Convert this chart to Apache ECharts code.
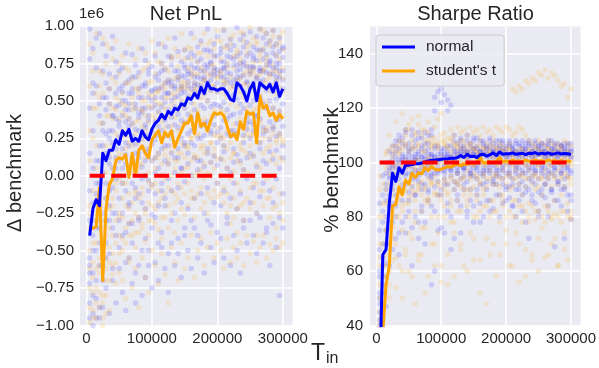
<!DOCTYPE html>
<html lang="en">
<head>
    <meta charset="UTF-8">
    <title>Net PnL / Sharpe Ratio</title>
    <script src="https://cdn.jsdelivr.net/npm/echarts@6/dist/echarts.min.js"></script>
    <style>
        html, body { margin: 0; padding: 0; background: #fff; }
        #chart { width: 599px; height: 368px; }
    </style>
</head>
<body>
    <div id="chart"></div>
    <script>
        // training window lengths (x)
        const tIn = [
            5000, 10000, 15000, 20000, 25000, 30000, 35000, 40000, 45000, 50000,
            55000, 60000, 65000, 70000, 75000, 80000, 85000, 90000, 95000, 100000,
            105000, 110000, 115000, 120000, 125000, 130000, 135000, 140000, 145000, 150000,
            155000, 160000, 165000, 170000, 175000, 180000, 185000, 190000, 195000, 200000,
            205000, 210000, 215000, 220000, 225000, 230000, 235000, 240000, 245000, 250000,
            255000, 260000, 265000, 270000, 275000, 280000, 285000, 290000, 295000, 300000
        ]
        const tInTicks = [0, 100000, 200000, 300000]
        const sharpeTicks = [40, 60, 80, 100, 120, 140]
        const benchX = [5000, 300000]

        // Net PnL, delta to benchmark (units of 1e6)
        const pnlNormal = [
            -0.40, -0.22, -0.16, -0.20, 0.15, 0.10, 0.17, 0.17, 0.24, 0.21,
            0.30, 0.27, 0.31, 0.23, 0.25, 0.23, 0.30, 0.26, 0.24, 0.31,
            0.35, 0.37, 0.41, 0.38, 0.43, 0.41, 0.45, 0.44, 0.48, 0.47,
            0.52, 0.51, 0.55, 0.52, 0.59, 0.55, 0.62, 0.58, 0.58, 0.57,
            0.58, 0.58, 0.55, 0.51, 0.50, 0.62, 0.60, 0.56, 0.50, 0.58,
            0.62, 0.50, 0.62, 0.60, 0.58, 0.61, 0.56, 0.62, 0.53, 0.58
        ]
        const pnlStudent = [
            -0.36, -0.35, -0.34, -0.08, -0.70, -0.22, -0.06, -0.02, 0.10, 0.12,
            0.11, 0.14, -0.01, 0.15, 0.00, 0.17, 0.20, 0.15, 0.12, 0.24,
            0.27, 0.30, 0.22, 0.29, 0.26, 0.30, 0.19, 0.25, 0.30, 0.35,
            0.35, 0.40, 0.28, 0.42, 0.33, 0.35, 0.30, 0.37, 0.42, 0.41,
            0.42, 0.40, 0.33, 0.26, 0.28, 0.24, 0.36, 0.31, 0.43, 0.41,
            0.42, 0.22, 0.53, 0.45, 0.47, 0.40, 0.42, 0.37, 0.41, 0.38
        ]
        const pnlBench = [0, 0]

        // individual runs (scatter), one row per run
        const pnlNormalRuns = [
            [0.78, 0.55, 0.92, 0.40, 0.70, 0.62, 0.48, 0.85, 0.66, 0.58, 0.72, 0.50, 0.64, 0.81, 0.45, 0.69, 0.60, 0.77, 0.52, 0.73,
             0.66, 0.88, 0.59, 0.71, 0.80, 0.63, 0.92, 0.70, 0.76, 0.84, 0.79, 0.95, 0.72, 0.86, 0.90, 0.74, 0.98, 0.83, 0.88, 0.93,
             0.85, 0.97, 0.80, 0.91, 0.87, 0.99, 0.82, 0.94, 0.89, 0.96, 0.86, 0.93, 0.98, 0.84, 0.95, 0.90, 0.97, 0.88, 0.92, 0.85],
            [-0.10, 0.05, -0.30, 0.20, 0.35, 0.28, 0.30, 0.22, 0.38, 0.33, 0.40, 0.36, 0.44, 0.35, 0.31, 0.39, 0.42, 0.34, 0.37, 0.45,
             0.47, 0.43, 0.52, 0.49, 0.55, 0.50, 0.58, 0.53, 0.60, 0.56, 0.63, 0.58, 0.66, 0.61, 0.70, 0.64, 0.72, 0.68, 0.67, 0.71,
             0.70, 0.66, 0.69, 0.62, 0.64, 0.74, 0.71, 0.67, 0.63, 0.70, 0.73, 0.65, 0.72, 0.70, 0.69, 0.74, 0.68, 0.75, 0.66, 0.70],
            [-0.55, -0.40, 0.10, -0.35, 0.02, -0.05, 0.08, 0.05, 0.12, 0.10, 0.18, 0.14, 0.20, 0.10, 0.15, 0.12, 0.19, 0.16, 0.13, 0.21,
             0.24, 0.27, 0.30, 0.26, 0.33, 0.29, 0.34, 0.32, 0.37, 0.35, 0.41, 0.39, 0.44, 0.40, 0.47, 0.45, 0.50, 0.46, 0.48, 0.47,
             0.46, 0.49, 0.44, 0.40, 0.41, 0.51, 0.48, 0.45, 0.39, 0.47, 0.50, 0.40, 0.52, 0.49, 0.46, 0.50, 0.45, 0.51, 0.43, 0.48],
            [-0.85, -0.65, -0.50, -0.60, -0.25, -0.15, -0.20, -0.08, -0.02, 0.00, 0.05, -0.10, 0.02, -0.05, 0.08, -0.12, 0.06, 0.00, -0.03, 0.10,
             0.12, 0.05, 0.18, 0.10, 0.20, 0.15, 0.22, 0.12, 0.25, 0.20, 0.28, 0.22, 0.31, 0.25, 0.33, 0.27, 0.36, 0.30, 0.34, 0.29,
             0.32, 0.37, 0.28, 0.26, 0.30, 0.35, 0.33, 0.27, 0.31, 0.36, 0.34, 0.29, 0.38, 0.32, 0.30, 0.36, 0.31, 0.37, 0.28, 0.33],
            [-0.95, -0.92, -0.70, -0.88, -0.60, -0.45, -0.52, -0.35, -0.40, -0.30, -0.25, -0.38, -0.20, -0.32, -0.15, -0.28, -0.18, -0.22, -0.10, -0.26,
             -0.12, -0.20, -0.05, -0.15, -0.02, -0.10, 0.02, -0.08, 0.05, -0.04, 0.08, 0.00, 0.12, 0.04, 0.10, 0.06, 0.15, 0.09, 0.13, 0.07,
             0.11, 0.16, 0.05, 0.02, 0.09, 0.14, 0.10, 0.04, 0.12, 0.15, 0.13, 0.06, 0.18, 0.10, 0.08, 0.16, 0.11, 0.17, 0.05, 0.12],
            [0.98, 0.85, 0.72, 0.95, 0.88, 0.80, 0.68, 0.93, 0.76, 0.70, 0.60, 0.82, 0.55, 0.66, 0.74, 0.58, 0.85, 0.62, 0.71, 0.57,
             0.80, 0.68, 0.75, 0.86, 0.64, 0.79, 0.70, 0.83, 0.67, 0.74, 0.70, 0.82, 0.60, 0.76, 0.65, 0.84, 0.62, 0.75, 0.80, 0.68,
             0.76, 0.72, 0.87, 0.79, 0.74, 0.66, 0.91, 0.76, 0.80, 0.73, 0.78, 0.84, 0.70, 0.92, 0.81, 0.77, 0.86, 0.72, 0.83, 0.79],
            [-0.65, -0.80, -0.95, -0.45, -0.70, -0.55, -0.30, -0.62, -0.25, -0.48, -0.40, -0.58, -0.32, -0.45, -0.65, -0.30, -0.50, -0.42, -0.60, -0.35,
             -0.28, -0.45, -0.38, -0.20, -0.52, -0.30, -0.25, -0.42, -0.18, -0.35, -0.22, -0.30, -0.15, -0.40, -0.12, -0.25, -0.08, -0.33, -0.18, -0.05,
             -0.20, -0.10, -0.28, -0.15, -0.05, -0.22, -0.12, -0.30, -0.02, -0.18, -0.08, -0.25, -0.14, -0.05, -0.35, -0.10, -0.18, -0.02, -0.28, -0.12],
            [-0.30, -0.18, -0.12, -0.05, 0.20, 0.15, 0.25, 0.30, 0.18, 0.26, 0.28, 0.22, 0.33, 0.26, 0.21, 0.30, 0.25, 0.32, 0.27, 0.29,
             0.36, 0.33, 0.40, 0.37, 0.44, 0.39, 0.46, 0.41, 0.49, 0.45, 0.53, 0.49, 0.56, 0.52, 0.60, 0.55, 0.62, 0.57, 0.59, 0.56,
             0.58, 0.61, 0.55, 0.52, 0.54, 0.63, 0.60, 0.56, 0.50, 0.59, 0.62, 0.52, 0.63, 0.60, 0.57, 0.61, 0.56, 0.63, 0.54, 0.58],
            [0.45, 0.30, 0.60, 0.10, 0.52, 0.44, 0.58, 0.40, 0.55, 0.47, 0.56, 0.62, 0.48, 0.58, 0.66, 0.52, 0.45, 0.60, 0.68, 0.50,
             0.58, 0.64, 0.70, 0.55, 0.62, 0.74, 0.60, 0.66, 0.55, 0.72, 0.68, 0.74, 0.80, 0.66, 0.78, 0.70, 0.84, 0.76, 0.72, 0.80,
             0.82, 0.76, 0.74, 0.84, 0.78, 0.80, 0.75, 0.86, 0.73, 0.82, 0.80, 0.77, 0.84, 0.78, 0.88, 0.76, 0.82, 0.80, 0.75, 0.86],
            [-0.72, -0.50, -0.35, -0.20, -0.45, -0.30, -0.10, -0.25, 0.05, -0.15, -0.05, 0.08, -0.18, 0.12, -0.08, 0.15, -0.02, 0.10, 0.18, -0.06,
             0.02, 0.15, -0.10, 0.20, 0.08, 0.25, 0.12, 0.18, 0.05, 0.22, 0.15, 0.30, 0.20, 0.10, 0.25, 0.35, 0.18, 0.28, 0.40, 0.22,
             0.25, 0.20, 0.38, 0.30, 0.18, 0.28, 0.42, 0.22, 0.35, 0.25, 0.30, 0.40, 0.22, 0.28, 0.45, 0.24, 0.33, 0.26, 0.38, 0.20],
            [0.15, 0.62, -0.05, 0.48, 0.30, 0.52, 0.12, 0.40, 0.46, 0.36, 0.50, 0.44, 0.38, 0.55, 0.48, 0.42, 0.52, 0.45, 0.40, 0.56,
             0.52, 0.58, 0.46, 0.62, 0.55, 0.60, 0.52, 0.64, 0.58, 0.66, 0.60, 0.68, 0.62, 0.72, 0.58, 0.66, 0.74, 0.64, 0.70, 0.62,
             0.66, 0.72, 0.64, 0.68, 0.60, 0.70, 0.66, 0.74, 0.62, 0.68, 0.72, 0.66, 0.70, 0.64, 0.74, 0.68, 0.72, 0.66, 0.70, 0.64],
            [-0.60, -1.00, -0.82, -0.95, -0.88, -0.75, -0.92, -0.70, -0.85, -0.62, -0.78, -0.90, -0.55, -0.72, -0.85, -0.60, -0.80, -0.68, -0.50, -0.75,
             -0.58, -0.70, -0.48, -0.62, -0.78, -0.45, -0.60, -0.52, -0.68, -0.40, -0.50, -0.62, -0.35, -0.55, -0.45, -0.65, -0.30, -0.48, -0.58, -0.38,
             -0.42, -0.55, -0.32, -0.60, -0.40, -0.50, -0.65, -0.35, -0.45, -0.30, -0.40, -0.52, -0.28, -0.45, -0.38, -0.60, -0.32, -0.48, -0.80, -0.35]
        ]
        const pnlStudentRuns = [
            [0.60, 0.82, 0.45, 0.70, 0.55, 0.88, 0.40, 0.65, 0.52, 0.75, 0.48, 0.62, 0.70, 0.44, 0.58, 0.66, 0.50, 0.72, 0.55, 0.63,
             0.68, 0.57, 0.75, 0.62, 0.70, 0.80, 0.65, 0.73, 0.60, 0.78, 0.72, 0.85, 0.68, 0.76, 0.82, 0.70, 0.88, 0.74, 0.80, 0.90,
             0.78, 0.86, 0.72, 0.92, 0.80, 0.84, 0.75, 0.95, 0.82, 0.88, 0.76, 0.90, 0.83, 0.97, 0.79, 0.87, 0.93, 0.81, 0.89, 0.84],
            [-0.20, -0.10, 0.05, -0.25, 0.10, 0.02, 0.15, 0.20, 0.28, 0.25, 0.30, 0.26, 0.22, 0.34, 0.28, 0.37, 0.33, 0.30, 0.36, 0.40,
             0.38, 0.42, 0.36, 0.45, 0.40, 0.47, 0.39, 0.44, 0.50, 0.46, 0.52, 0.55, 0.48, 0.58, 0.51, 0.54, 0.50, 0.57, 0.60, 0.56,
             0.58, 0.55, 0.52, 0.48, 0.50, 0.46, 0.55, 0.52, 0.61, 0.58, 0.60, 0.45, 0.68, 0.62, 0.64, 0.57, 0.60, 0.55, 0.59, 0.56],
            [-0.50, -0.58, -0.45, -0.30, -0.85, -0.40, -0.22, -0.15, -0.05, -0.02, -0.05, 0.00, -0.12, 0.02, -0.10, 0.05, 0.08, 0.00, -0.04, 0.10,
             0.12, 0.15, 0.08, 0.14, 0.11, 0.16, 0.05, 0.10, 0.15, 0.20, 0.20, 0.25, 0.14, 0.27, 0.18, 0.20, 0.16, 0.22, 0.27, 0.26,
             0.27, 0.25, 0.18, 0.12, 0.15, 0.10, 0.21, 0.17, 0.28, 0.26, 0.28, 0.08, 0.38, 0.30, 0.32, 0.25, 0.28, 0.22, 0.26, 0.24],
            [-0.75, -0.68, -0.62, -0.55, -0.95, -0.70, -0.48, -0.40, -0.30, -0.25, -0.28, -0.20, -0.32, -0.18, -0.25, -0.15, -0.12, -0.22, -0.18, -0.08,
             -0.05, -0.10, -0.15, -0.02, -0.08, 0.00, -0.12, -0.05, 0.02, 0.05, 0.06, 0.10, 0.00, 0.12, 0.04, 0.08, 0.02, 0.09, 0.14, 0.11,
             0.12, 0.10, 0.05, -0.02, 0.03, -0.05, 0.08, 0.04, 0.15, 0.12, 0.14, -0.05, 0.22, 0.15, 0.18, 0.10, 0.14, 0.08, 0.12, 0.10],
            [-0.98, -0.90, -0.85, -0.78, -1.00, -0.92, -0.70, -0.66, -0.58, -0.52, -0.50, -0.45, -0.55, -0.40, -0.48, -0.38, -0.35, -0.44, -0.40, -0.30,
             -0.32, -0.36, -0.42, -0.28, -0.35, -0.25, -0.38, -0.30, -0.22, -0.26, -0.20, -0.15, -0.28, -0.12, -0.22, -0.18, -0.25, -0.15, -0.10, -0.14,
             -0.12, -0.18, -0.25, -0.32, -0.28, -0.38, -0.20, -0.30, -0.15, -0.22, -0.18, -0.40, -0.10, -0.20, -0.15, -0.28, -0.22, -0.35, -0.25, -0.30],
            [0.30, 0.45, 0.20, 0.52, 0.35, 0.40, 0.48, 0.38, 0.44, 0.50, 0.42, 0.47, 0.38, 0.52, 0.45, 0.55, 0.43, 0.50, 0.46, 0.53,
             0.50, 0.56, 0.48, 0.58, 0.52, 0.60, 0.54, 0.57, 0.63, 0.59, 0.62, 0.66, 0.58, 0.68, 0.61, 0.64, 0.60, 0.67, 0.70, 0.65,
             0.68, 0.64, 0.62, 0.58, 0.60, 0.57, 0.65, 0.61, 0.70, 0.67, 0.69, 0.56, 0.76, 0.71, 0.73, 0.66, 0.70, 0.64, 0.68, 0.65],
            [-0.62, -0.95, -0.75, -0.88, -0.55, -0.80, -0.90, -0.60, -0.72, -0.65, -0.70, -0.82, -0.58, -0.75, -0.62, -0.88, -0.55, -0.68, -0.78, -0.50,
             -0.60, -0.72, -0.52, -0.66, -0.85, -0.48, -0.58, -0.70, -0.45, -0.62, -0.55, -0.40, -0.68, -0.50, -0.42, -0.60, -0.48, -0.38, -0.55, -0.45,
             -0.50, -0.62, -0.42, -0.58, -0.48, -0.55, -0.45, -0.60, -0.40, -0.52, -0.44, -0.58, -0.48, -0.40, -0.55, -0.46, -0.50, -0.42, -0.48, -0.45],
            [-0.35, -0.30, -0.25, -0.10, -0.45, -0.15, -0.05, 0.05, 0.12, 0.15, 0.14, 0.18, 0.05, 0.20, 0.10, 0.22, 0.24, 0.18, 0.15, 0.26,
             0.28, 0.30, 0.24, 0.32, 0.28, 0.33, 0.22, 0.30, 0.34, 0.36, 0.37, 0.42, 0.32, 0.44, 0.36, 0.38, 0.34, 0.40, 0.44, 0.42,
             0.44, 0.42, 0.36, 0.30, 0.34, 0.28, 0.38, 0.35, 0.45, 0.42, 0.44, 0.26, 0.54, 0.47, 0.49, 0.42, 0.45, 0.40, 0.43, 0.40],
            [-0.25, -0.45, -0.15, -0.60, -0.30, -0.55, -0.35, -0.20, -0.10, -0.28, -0.15, -0.05, -0.22, 0.05, -0.12, 0.08, -0.08, 0.12, 0.02, -0.06,
             0.05, 0.12, 0.00, 0.18, 0.08, 0.20, 0.10, 0.15, 0.22, 0.12, 0.18, 0.25, 0.12, 0.28, 0.20, 0.15, 0.30, 0.22, 0.18, 0.32,
             0.25, 0.20, 0.30, 0.22, 0.15, 0.28, 0.18, 0.25, 0.32, 0.20, 0.28, 0.22, 0.35, 0.25, 0.30, 0.20, 0.32, 0.24, 0.28, 0.22],
            [0.10, 0.25, 0.55, 0.35, 0.68, 0.20, 0.58, 0.45, 0.62, 0.38, 0.55, 0.40, 0.62, 0.48, 0.36, 0.58, 0.44, 0.40, 0.62, 0.46,
             0.55, 0.48, 0.60, 0.52, 0.64, 0.55, 0.50, 0.66, 0.58, 0.62, 0.58, 0.70, 0.62, 0.55, 0.72, 0.64, 0.68, 0.60, 0.74, 0.66,
             0.70, 0.62, 0.75, 0.66, 0.72, 0.64, 0.78, 0.68, 0.74, 0.70, 0.72, 0.66, 0.80, 0.70, 0.76, 0.68, 0.74, 0.70, 0.78, 0.72],
            [-0.88, -0.78, -0.95, -0.65, -0.80, -0.62, -0.58, -0.52, -0.45, -0.40, -0.42, -0.35, -0.40, -0.30, -0.38, -0.28, -0.32, -0.25, -0.30, -0.20,
             -0.22, -0.18, -0.28, -0.12, -0.20, -0.10, -0.18, -0.15, -0.08, -0.12, -0.05, -0.10, -0.15, 0.02, -0.08, -0.02, -0.12, 0.00, 0.05, -0.05,
             0.00, -0.08, -0.12, -0.20, -0.15, -0.22, -0.10, -0.18, 0.02, -0.08, -0.05, -0.25, 0.05, -0.10, -0.02, -0.15, -0.08, -0.20, -0.12, -0.18],
            [0.88, 0.70, 0.95, 0.60, 0.92, 0.75, 0.85, 0.78, 0.90, 0.68, 0.80, 0.72, 0.88, 0.65, 0.78, 0.85, 0.70, 0.82, 0.75, 0.90,
             0.82, 0.76, 0.88, 0.72, 0.92, 0.78, 0.85, 0.80, 0.95, 0.84, 0.86, 0.78, 0.92, 0.82, 0.88, 0.95, 0.80, 0.90, 0.85, 0.97,
             0.90, 0.98, 0.85, 0.88, 0.94, 0.82, 0.96, 0.90, 0.86, 0.99, 0.92, 0.88, 0.98, 0.85, 0.95, 0.90, 0.97, 0.87, 0.93, 0.96]
        ]

        // Sharpe ratio, % of benchmark
        const sharpeNormal = [
            20, 66, 68, 85, 96, 93, 98, 96, 99, 99,
            99.2, 99.5, 99.5, 99.8, 100.2, 100.5, 100.8, 100.8, 101, 101.2,
            101.3, 101.3, 101.5, 101.5, 101.8, 102.5, 101.8, 103, 102.2, 102.3,
            101.8, 102.8, 103, 102.3, 102.8, 103.5, 102.6, 103.8, 103, 103.2,
            103.2, 103.5, 103, 103.2, 103.4, 102.9, 103.4, 103.3, 103.6, 103,
            103.4, 103.1, 103.5, 103, 103.2, 103.5, 103.1, 103.3, 103.2, 102.9
        ]
        const sharpeStudent = [
            15, 38, 55, 62, 84, 84.5, 91, 88, 93.5, 92,
            96, 94.5, 96.2, 95.8, 98, 97, 98.5, 97.5, 97.2, 97.5,
            98, 98.5, 98.2, 99, 99.3, 98.8, 99.5, 99.2, 99.8, 99.5,
            100.2, 101.7, 99.8, 100, 100.3, 99.8, 100.5, 101.7, 100.2, 100.5,
            100.3, 100.8, 100.4, 100.6, 100.2, 100.8, 100.5, 100.3, 100.9, 100.5,
            100.6, 100.2, 100.9, 100.4, 100.6, 100.3, 100.7, 100.2, 100.5, 100.3
        ]
        const sharpeBench = [100, 100]

        const sharpeNormalRuns = [
            [85, 95, 100, 104, 106, 108, 110, 109, 111, 107, 110, 108, 111, 109, 107, 110, 112, 124, 126, 122,
             125, 119, 121, 108, 107, 109, 106, 108, 107, 109, 106, 108, 107, 106, 108, 107, 106, 108, 107, 106,
             107, 106, 108, 107, 106, 107, 108, 106, 107, 106, 107, 106, 107, 108, 106, 107, 106, 107, 106, 107],
            [60, 78, 92, 100, 103, 104, 105, 103, 106, 104, 105, 103, 104, 106, 104, 105, 103, 105, 106, 104,
             105, 104, 106, 105, 104, 106, 105, 104, 106, 105, 105, 104, 106, 105, 106, 105, 104, 106, 105, 105,
             106, 105, 104, 106, 105, 105, 106, 104, 105, 106, 105, 104, 106, 105, 105, 104, 106, 105, 104, 105],
            [45, 62, 80, 94, 96, 95, 98, 97, 96, 99, 98, 97, 96, 98, 97, 99, 98, 96, 98, 97,
             99, 98, 97, 99, 98, 99, 98, 100, 99, 98, 99, 100, 98, 99, 100, 99, 98, 100, 99, 100,
             99, 100, 99, 98, 100, 99, 100, 98, 99, 100, 99, 98, 100, 99, 98, 100, 99, 98, 99, 97],
            [52, 48, 70, 76, 85, 88, 90, 86, 92, 89, 91, 88, 93, 90, 92, 89, 94, 91, 93, 90,
             94, 92, 95, 93, 96, 94, 95, 93, 96, 95, 94, 96, 95, 93, 96, 94, 95, 97, 94, 96,
             95, 94, 96, 95, 93, 96, 94, 95, 97, 94, 96, 95, 94, 96, 95, 93, 96, 94, 95, 96],
            [42, 55, 47, 62, 68, 72, 66, 78, 74, 82, 76, 80, 72, 84, 78, 86, 55, 82, 75, 88,
             74, 85, 80, 72, 88, 84, 90, 82, 86, 78, 88, 85, 80, 90, 86, 83, 92, 88, 85, 90,
             87, 84, 90, 86, 82, 89, 72, 88, 85, 80, 90, 87, 84, 89, 69, 86, 90, 72, 88, 79],
            [75, 88, 96, 98, 101, 102, 100, 102, 101, 103, 102, 101, 103, 102, 101, 103, 102, 101, 103, 102,
             103, 102, 101, 103, 102, 104, 103, 102, 104, 103, 102, 104, 103, 102, 104, 103, 102, 104, 103, 102,
             103, 104, 102, 103, 104, 102, 103, 104, 102, 103, 104, 102, 103, 104, 102, 103, 104, 102, 103, 104],
            [50, 40, 58, 84, 90, 80, 108, 92, 112, 96, 112, 94, 109, 82, 111, 95, 110, 119, 100, 127,
             98, 123, 102, 110, 92, 108, 98, 110, 95, 108, 109, 92, 108, 97, 109, 92, 108, 95, 108, 91,
             108, 92, 107, 90, 108, 91, 107, 93, 108, 89, 107, 92, 108, 90, 107, 93, 106, 91, 107, 86],
            [68, 70, 86, 97, 99, 100, 101, 100, 102, 101, 100, 102, 101, 100, 102, 101, 103, 102, 101, 103,
             102, 103, 102, 101, 103, 102, 104, 103, 102, 103, 103, 102, 104, 103, 102, 104, 103, 102, 104, 103,
             102, 103, 104, 103, 102, 104, 103, 102, 103, 104, 103, 104, 102, 103, 104, 102, 103, 104, 103, 102],
            [58, 82, 90, 95, 98, 106, 96, 107, 98, 105, 96, 106, 97, 105, 98, 107, 96, 106, 97, 105,
             97, 106, 98, 104, 97, 105, 98, 104, 97, 105, 98, 104, 97, 105, 98, 104, 97, 105, 98, 104,
             97, 105, 98, 104, 97, 105, 98, 104, 97, 105, 98, 104, 97, 105, 98, 104, 97, 105, 98, 104],
            [48, 65, 75, 88, 92, 98, 94, 101, 95, 100, 94, 101, 95, 102, 96, 100, 95, 102, 96, 101,
             96, 102, 97, 101, 96, 103, 97, 102, 96, 103, 97, 102, 96, 103, 97, 102, 96, 103, 97, 102,
             96, 103, 97, 102, 96, 103, 97, 102, 96, 103, 97, 102, 96, 103, 97, 102, 96, 103, 97, 102],
            [40, 52, 63, 70, 78, 84, 74, 90, 80, 86, 62, 88, 78, 92, 70, 90, 84, 60, 88, 76,
             92, 82, 68, 90, 86, 74, 92, 80, 90, 84, 90, 78, 92, 86, 82, 93, 88, 80, 92, 86,
             91, 84, 80, 92, 88, 78, 90, 86, 92, 82, 88, 92, 80, 90, 86, 92, 84, 90, 82, 88]
        ]
        const sharpeStudentRuns = [
            [80, 92, 98, 100, 102, 104, 106, 108, 110, 112, 108, 111, 114, 110, 112, 115, 109, 113, 116, 118,
             111, 109, 112, 110, 113, 111, 112, 110, 113, 111, 112, 110, 113, 111, 112, 110, 113, 112, 111, 113,
             112, 110, 111, 113, 112, 110, 108, 107, 106, 108, 107, 106, 108, 107, 106, 107, 106, 108, 107, 106],
            [90, 100, 103, 105, 104, 106, 103, 105, 107, 104, 106, 105, 107, 104, 106, 108, 105, 107, 106, 108,
             107, 105, 108, 106, 107, 105, 108, 106, 107, 105, 106, 108, 105, 107, 106, 108, 105, 107, 106, 105,
             107, 127, 126, 128, 127, 130, 129, 131, 130, 133, 132, 134, 131, 133, 132, 130, 128, 129, 124, 127],
            [55, 70, 85, 92, 95, 96, 97, 99, 98, 100, 99, 101, 100, 98, 100, 102, 99, 101, 100, 102,
             101, 100, 102, 101, 103, 100, 102, 101, 103, 102, 101, 103, 102, 100, 103, 102, 101, 103, 102, 101,
             103, 102, 101, 103, 102, 101, 103, 102, 101, 103, 102, 101, 103, 102, 101, 103, 102, 101, 102, 101],
            [45, 58, 66, 78, 82, 85, 88, 84, 90, 87, 92, 89, 91, 93, 90, 94, 92, 95, 93, 91,
             94, 92, 95, 93, 96, 94, 95, 97, 94, 96, 95, 93, 96, 94, 97, 95, 96, 94, 97, 95,
             96, 94, 97, 95, 96, 94, 97, 95, 96, 94, 95, 97, 94, 96, 95, 97, 94, 96, 95, 94],
            [40, 48, 52, 60, 64, 70, 62, 75, 68, 80, 72, 78, 66, 82, 76, 85, 80, 88, 74, 86,
             80, 88, 84, 78, 86, 82, 90, 84, 88, 80, 86, 82, 88, 84, 80, 86, 82, 88, 84, 80,
             82, 86, 80, 84, 78, 82, 80, 84, 79, 82, 80, 78, 82, 79, 81, 80, 78, 82, 80, 79],
            [62, 42, 75, 55, 88, 65, 92, 50, 85, 60, 88, 48, 90, 66, 86, 58, 92, 70, 88, 62,
             90, 55, 86, 74, 92, 68, 88, 60, 90, 72, 88, 64, 90, 48, 86, 70, 92, 66, 88, 75,
             90, 62, 86, 70, 88, 58, 85, 66, 90, 72, 88, 65, 84, 70, 86, 62, 88, 68, 85, 82],
            [70, 80, 90, 96, 98, 99, 100, 98, 101, 99, 100, 98, 101, 100, 99, 101, 100, 99, 101, 100,
             100, 101, 99, 100, 101, 100, 99, 101, 100, 99, 100, 101, 99, 100, 101, 100, 99, 101, 100, 99,
             100, 101, 99, 100, 101, 100, 99, 101, 100, 99, 100, 101, 99, 100, 101, 100, 99, 101, 100, 99],
            [95, 85, 104, 110, 106, 115, 108, 118, 112, 114, 116, 110, 117, 112, 108, 111, 106, 109, 107, 110,
             108, 106, 109, 107, 105, 108, 106, 104, 107, 105, 104, 106, 103, 105, 104, 106, 103, 105, 104, 103,
             105, 104, 103, 105, 104, 103, 105, 104, 103, 105, 104, 103, 105, 104, 103, 105, 104, 103, 104, 103],
            [50, 62, 75, 86, 90, 94, 104, 96, 106, 98, 105, 97, 106, 99, 104, 98, 107, 100, 105, 98,
             106, 99, 104, 100, 106, 99, 104, 100, 105, 99, 104, 100, 105, 99, 104, 100, 105, 99, 104, 100,
             105, 99, 104, 100, 105, 99, 104, 100, 105, 99, 104, 100, 105, 99, 104, 100, 105, 99, 104, 100],
            [42, 55, 62, 70, 76, 80, 86, 82, 89, 85, 90, 86, 92, 88, 91, 87, 93, 89, 92, 88,
             93, 89, 94, 90, 93, 91, 94, 90, 95, 91, 94, 92, 95, 91, 94, 92, 95, 91, 94, 92,
             95, 91, 94, 92, 95, 91, 94, 92, 95, 91, 94, 92, 95, 91, 94, 92, 95, 91, 94, 92],
            [65, 45, 58, 50, 72, 54, 80, 60, 66, 74, 58, 82, 64, 76, 52, 86, 70, 62, 80, 56,
             84, 66, 78, 58, 82, 70, 62, 86, 74, 64, 80, 52, 84, 72, 66, 82, 58, 78, 86, 70,
             62, 80, 74, 56, 84, 68, 78, 64, 82, 60, 76, 84, 66, 80, 72, 62, 82, 74, 64, 80]
        ]

        const BLUE = "#0000ff"
        const ORANGE = "#ffa500"
        const RED = "#ff0000"
        const FONT = "Liberation Sans"
        const TXT = "#262626"

        const pairs = (xs, ys) => xs.map((x, i) => [x, ys[i]])
        const runPoints = runs => runs.flatMap(row => pairs(tIn, row))

        function scatter(name, idx, runs, color) {
            return {
                name, type: "scatter", xAxisIndex: idx, yAxisIndex: idx,
                data: runPoints(runs), symbolSize: 5.5, silent: true,
                itemStyle: { color, opacity: 0.14 }
            }
        }
        function line(name, idx, ys, color, z) {
            return {
                name, type: "line", xAxisIndex: idx, yAxisIndex: idx,
                data: pairs(tIn, ys), showSymbol: false, symbol: "none", silent: true,
                color, itemStyle: { color },
                lineStyle: { color, width: 3, join: "round" }, z
            }
        }
        function bench(idx, ys) {
            return {
                type: "line", xAxisIndex: idx, yAxisIndex: idx,
                data: pairs(benchX, ys), showSymbol: false, symbol: "none", silent: true,
                lineStyle: { color: RED, width: 4, type: [15, 6.5] }, z: 5
            }
        }

        const splitLine = { show: true, lineStyle: { color: "#ffffff", width: 1.5 } }
        const labelStyle = { color: TXT, fontSize: 15, fontFamily: FONT }

        function xAxis(idx) {
            return {
                type: "value", gridIndex: idx, min: -9750, max: 314750,
                axisLine: { show: false },
                axisTick: { show: false, customValues: tInTicks },
                axisLabel: { ...labelStyle, margin: 6, customValues: tInTicks, formatter: v => String(v) },
                splitLine
            }
        }

        const chart = echarts.init(document.getElementById("chart"), null, { renderer: "canvas" })
        chart.setOption({
            animation: false,
            backgroundColor: "#ffffff",
            grid: [
                { left: 80, top: 26, width: 212.5, height: 299.4, show: true, backgroundColor: "#eaeaf2", borderWidth: 0 },
                { left: 370, top: 26.5, width: 211, height: 299, show: true, backgroundColor: "#eaeaf2", borderWidth: 0 }
            ],
            xAxis: [xAxis(0), xAxis(1)],
            yAxis: [
                {
                    type: "value", gridIndex: 0, min: -1, max: 1, interval: 0.25,
                    axisLine: { show: false }, axisTick: { show: false },
                    axisLabel: { ...labelStyle, margin: 6, formatter: v => v.toFixed(2).replace("-", "\u2212") },
                    splitLine
                },
                {
                    type: "value", gridIndex: 1, min: 40, max: 150,
                    axisLine: { show: false },
                    axisTick: { show: false, customValues: sharpeTicks },
                    axisLabel: { ...labelStyle, margin: 7, customValues: sharpeTicks },
                    splitLine
                }
            ],
            legend: {
                left: 376, top: 35, orient: "vertical", selectedMode: false,
                data: [{ name: "normal", icon: "rect" }, { name: "student's t", icon: "rect" }],
                itemWidth: 33, itemHeight: 3, itemGap: 8,
                padding: [4, 8, 7, 6],
                backgroundColor: "rgba(234,234,242,0.85)",
                borderColor: "#cccccc", borderWidth: 1, borderRadius: 3,
                textStyle: { ...labelStyle, fontSize: 15.5, padding: [0, 0, 0, 6] }
            },
            graphic: [
                { type: "text", x: 186, y: 14, style: { text: "Net PnL", font: `20px "${FONT}"`, fill: TXT, align: "center", verticalAlign: "middle" } },
                { type: "text", x: 475.5, y: 14, style: { text: "Sharpe Ratio", font: `20px "${FONT}"`, fill: TXT, align: "center", verticalAlign: "middle" } },
                { type: "text", x: 79, y: 14, style: { text: "1e6", font: `15px "${FONT}"`, fill: TXT, align: "left", verticalAlign: "middle" } },
                { type: "text", x: 15, y: 173, rotation: Math.PI / 2, style: { text: "\u0394 benchmark", font: `20px "${FONT}"`, fill: TXT, align: "center", verticalAlign: "middle" } },
                { type: "text", x: 332, y: 170, rotation: Math.PI / 2, z: 10, style: { text: "% benchmark", font: `20.5px "${FONT}"`, fill: TXT, align: "center", verticalAlign: "middle" } },
                { type: "text", x: 311, y: 353.5, style: { text: "T", font: `23px "${FONT}"`, fill: TXT, align: "left", verticalAlign: "middle" } },
                { type: "text", x: 326, y: 359, style: { text: "in", font: `16px "${FONT}"`, fill: TXT, align: "left", verticalAlign: "middle" } }
            ],
            series: [
                scatter("normal runs", 0, pnlNormalRuns, BLUE),
                scatter("student runs", 0, pnlStudentRuns, ORANGE),
                line("normal", 0, pnlNormal, BLUE, 4),
                line("student's t", 0, pnlStudent, ORANGE, 3),
                bench(0, pnlBench),
                scatter("normal runs", 1, sharpeNormalRuns, BLUE),
                scatter("student runs", 1, sharpeStudentRuns, ORANGE),
                line("normal", 1, sharpeNormal, BLUE, 4),
                line("student's t", 1, sharpeStudent, ORANGE, 3),
                bench(1, sharpeBench)
            ]
        })
    </script>
</body>
</html>
